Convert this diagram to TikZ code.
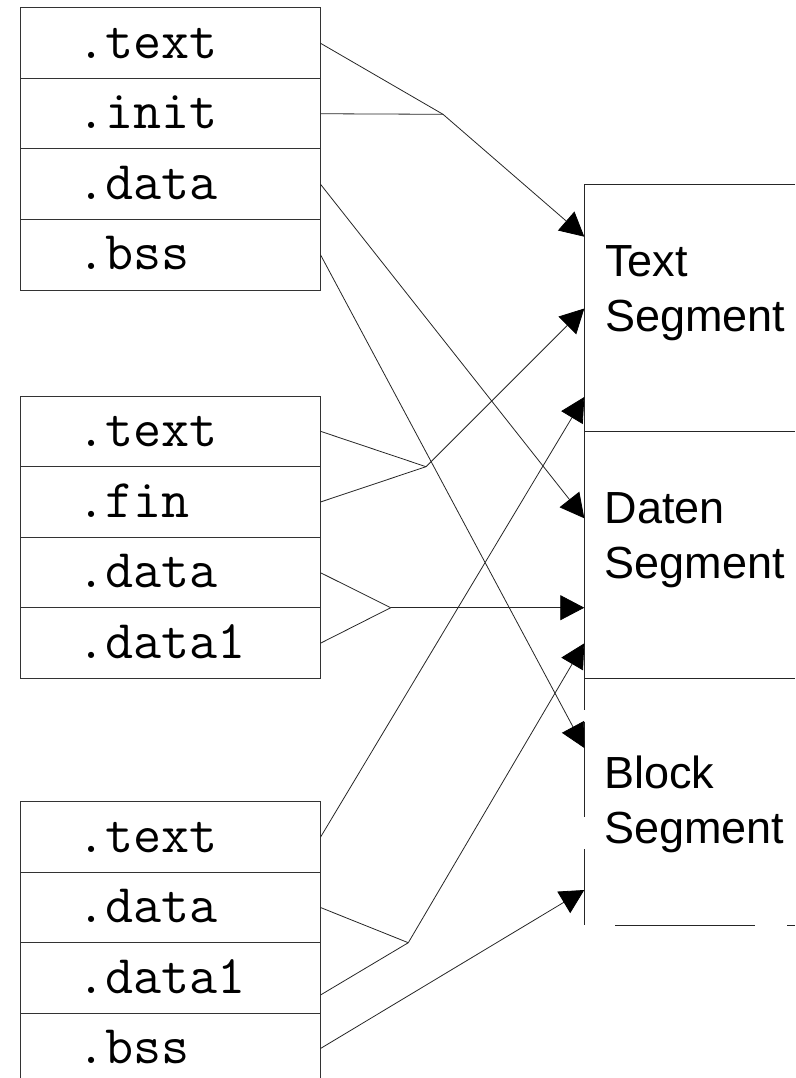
\documentclass[tikz,border=0pt]{standalone}
\usepackage{fontspec}
\setmainfont{Liberation Sans}
\usetikzlibrary{arrows.meta}
\begin{document}
\begin{tikzpicture}[x=1pt,y=-1pt,
  sec/.style={draw=black!80, line width=1pt, minimum width=300pt, minimum height=70.5pt,
    inner xsep=57pt, inner ysep=0pt, text width=186pt, align=left,
    text height=45pt, text depth=15pt, font=\ttfamily\fontsize{54.5}{58}\selectfont},
  conn/.style={draw=black!85, line width=0.8pt},
  arr/.style={conn, -{Triangle[length=24pt,width=25pt,color=black]}},
  boxline/.style={draw=black!85, line width=1pt},
  seglabel/.style={anchor=base west, inner sep=0pt, align=left, font=\fontsize{45}{55}\selectfont}]
\useasboundingbox (0,0) rectangle (795,1078);
% group 1
\node[sec] (a1) at (170,43.25) {.text};
\node[sec] (a2) at (170,113.75) {.init};
\node[sec] (a3) at (170,184.25) {.data};
\node[sec] (a4) at (170,254.75) {.bss};
% group 2
\node[sec] (b1) at (170,431.3) {.text};
\node[sec] (b2) at (170,502) {.fin};
\node[sec] (b3) at (170,572.7) {.data};
\node[sec] (b4) at (170,643.2) {.data1};
% group 3
\node[sec] (c1) at (170,837.2) {.text};
\node[sec] (c2) at (170,907.5) {.data};
\node[sec] (c3) at (170,978) {.data1};
\node[sec] (c4) at (170,1048.5) {.bss};
% right box
\draw[boxline] (795,184.3) -- (584.3,184.3) -- (584.3,710);
\draw[boxline] (584.3,722) -- (584.3,817);
\draw[boxline] (584.3,849) -- (584.3,925);
\draw[boxline] (584.3,431) -- (795,431);
\draw[boxline] (584.3,678.3) -- (795,678.3);
\draw[boxline] (615,925) -- (755,925);
\draw[boxline] (787,925) -- (795,925);
\node[seglabel] (ts) at (605,331.7) {Text\\Segment};
\node[seglabel] (ds) at (604.5,578.3) {Daten\\Segment};
\node[seglabel] (bs) at (604,843.3) {Block\\Segment};
% junctions and targets
\coordinate (j1) at (443,114.3);
\coordinate (j2) at (426,466.7);
\coordinate (j3) at (390.7,607.7);
\coordinate (j4) at (408.3,942.7);
\coordinate (t1) at (584.3,236.7);
\coordinate (t2) at (584.3,308.5);
\coordinate (t3) at (584.3,397);
\coordinate (d1) at (584.3,518.3);
\coordinate (d2) at (584.3,607.7);
\coordinate (d3) at (584.3,643.3);
\coordinate (k1) at (584.3,748);
\coordinate (k2) at (584.3,890);
% connectors
\draw[conn] (a1.east) -- (j1);
\draw[conn] (a2.east) -- (j1);
\draw[arr] (j1) -- (t1);
\draw[arr] (a3.east) -- (d1);
\draw[arr] (a4.east) -- (k1);
\draw[conn] (b1.east) -- (j2);
\draw[conn] (b2.east) -- (j2);
\draw[arr] (j2) -- (t2);
\draw[conn] (b3.east) -- (j3);
\draw[conn] (b4.east) -- (j3);
\draw[arr] (j3) -- (d2);
\draw[arr] (c1.east) -- (t3);
\draw[conn] (c2.east) -- (j4);
\draw[conn] ([yshift=-17pt]c3.east) -- (j4);
\draw[arr] (j4) -- (d3);
\draw[arr] (c4.east) -- (k2);
\end{tikzpicture}
\end{document}
